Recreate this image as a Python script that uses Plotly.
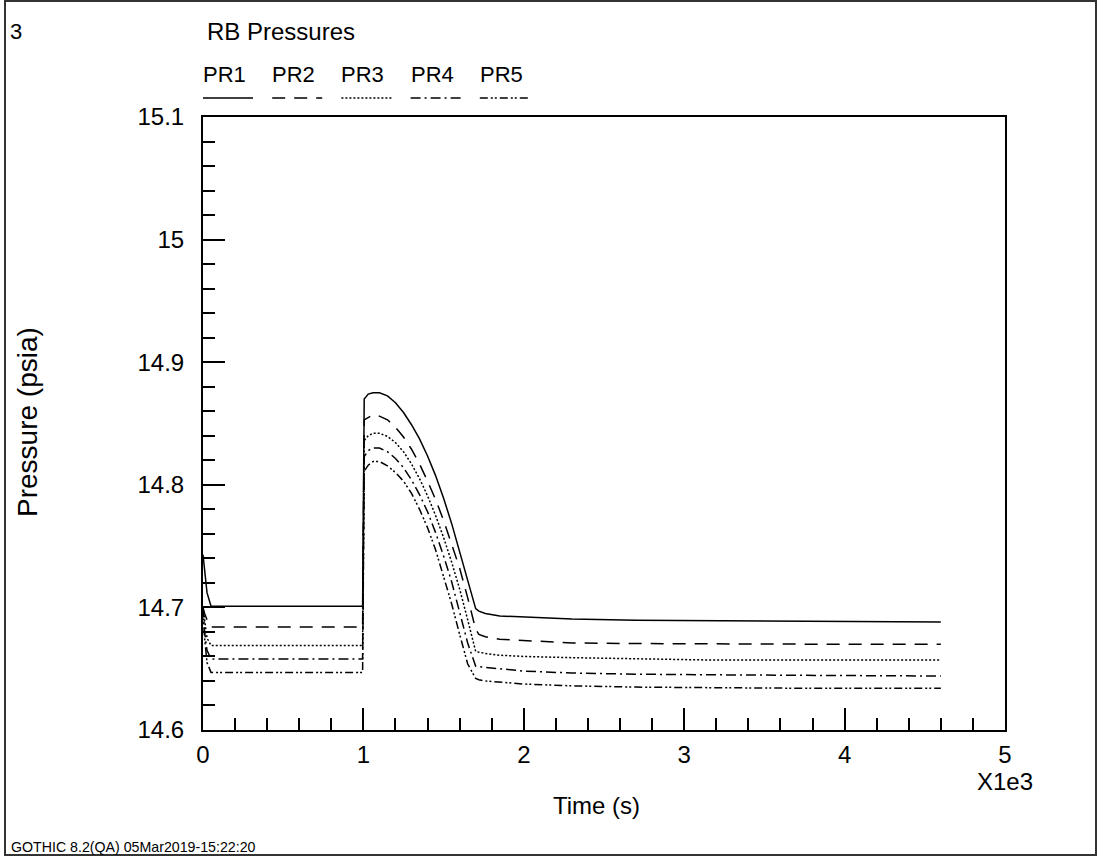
import plotly.graph_objects as go

# Time base (s) shared by all pressure channels
time_s = [0, 10, 25, 50, 100, 500, 995, 1005, 1030, 1060, 1100, 1150, 1200, 1250,
          1300, 1350, 1400, 1450, 1500, 1550, 1600, 1650, 1700, 1720, 1760, 1850,
          2000, 2300, 2700, 3200, 3800, 4600]

# Pressures (psia)
pr1 = [14.743, 14.730, 14.712, 14.701, 14.701, 14.701, 14.701, 14.870, 14.874, 14.875,
       14.875, 14.8725, 14.867, 14.859, 14.849, 14.8375, 14.8235, 14.8075, 14.789, 14.7685,
       14.746, 14.722, 14.699, 14.697, 14.695, 14.693, 14.692, 14.6905, 14.6895, 14.689,
       14.6885, 14.688]
pr2 = [14.700, 14.695, 14.690, 14.684, 14.684, 14.684, 14.684, 14.853, 14.855, 14.857,
       14.856, 14.853, 14.847, 14.839, 14.829, 14.817, 14.803, 14.788, 14.771, 14.752,
       14.732, 14.708, 14.682, 14.678, 14.676, 14.674, 14.673, 14.671, 14.6705, 14.670,
       14.670, 14.670]
pr3 = [14.700, 14.690, 14.675, 14.669, 14.669, 14.669, 14.669, 14.836, 14.840, 14.842,
       14.842, 14.8395, 14.8345, 14.827, 14.817, 14.805, 14.791, 14.775, 14.757, 14.737,
       14.715, 14.690, 14.664, 14.6635, 14.6625, 14.661, 14.660, 14.659, 14.658, 14.657,
       14.657, 14.657]
pr4 = [14.700, 14.680, 14.665, 14.658, 14.658, 14.658, 14.658, 14.823, 14.828, 14.830,
       14.830, 14.827, 14.8215, 14.814, 14.804, 14.792, 14.778, 14.761, 14.742, 14.721,
       14.697, 14.671, 14.652, 14.6515, 14.651, 14.650, 14.648, 14.6465, 14.6455, 14.645,
       14.6445, 14.644]
pr5 = [14.700, 14.675, 14.655, 14.647, 14.647, 14.647, 14.647, 14.811, 14.816, 14.819,
       14.819, 14.8155, 14.810, 14.803, 14.793, 14.780, 14.765, 14.747, 14.726, 14.703,
       14.678, 14.654, 14.642, 14.641, 14.640, 14.639, 14.6375, 14.636, 14.635, 14.6345,
       14.634, 14.634]

series_names = ["PR1", "PR2", "PR3", "PR4", "PR5"]
series_values = [pr1, pr2, pr3, pr4, pr5]
dash_styles = ["solid", "13px,9px", "2px,2px", "10px,4px,2px,4px", "8px,3px,2px,2px,2px,3px"]

x_tick_vals = [0, 1000, 2000, 3000, 4000, 5000]
x_tick_text = ["0", "1", "2", "3", "4", "5"]
y_tick_vals = [14.6, 14.7, 14.8, 14.9, 15.0, 15.1]
y_tick_text = ["14.6", "14.7", "14.8", "14.9", "15", "15.1"]

W, H = 1098, 857
L, R, T, B = 203, 1005, 117, 730
FONT = "Liberation Sans, Arial, sans-serif"


def px(x):
    return (x - L) / (R - L)


def py(y):
    return (B - y) / (B - T)


fig = go.Figure()
for name, vals, dash in zip(series_names, series_values, dash_styles):
    fig.add_trace(go.Scatter(x=time_s, y=vals, mode="lines", name=name,
                             line=dict(color="black", width=1.5, dash=dash)))

axis_common = dict(showline=True, linecolor="black", linewidth=2, mirror=True,
                   ticks="inside", ticklen=22, tickwidth=2, tickcolor="black",
                   showgrid=False, zeroline=False,
                   tickfont=dict(family=FONT, size=24, color="black"))

fig.update_xaxes(range=[0, 5000], tickmode="array", tickvals=x_tick_vals,
                 ticktext=x_tick_text, ticklabelstandoff=2,
                 minor=dict(ticks="inside", ticklen=12, tickwidth=2,
                            tickcolor="black", dtick=200, tick0=0, showgrid=False),
                 **axis_common)
fig.update_yaxes(range=[14.6, 15.1], tickmode="array", tickvals=y_tick_vals,
                 ticktext=y_tick_text, ticklabelstandoff=12,
                 minor=dict(ticks="inside", ticklen=12, tickwidth=2,
                            tickcolor="black", dtick=0.02, tick0=14.6, showgrid=False),
                 **axis_common)

annotations = [
    dict(text="3", x=px(8), y=py(32), xanchor="left", yanchor="middle", size=22),
    dict(text="RB Pressures", x=px(205), y=py(32), xanchor="left", yanchor="middle", size=24),
    dict(text="Time (s)", x=px(596), y=py(805), xanchor="center", yanchor="middle", size=24),
    dict(text="X1e3", x=px(1005), y=py(781), xanchor="center", yanchor="middle", size=24),
]
for a in annotations:
    size = a.pop("size")
    fig.add_annotation(xref="paper", yref="paper", showarrow=False,
                       font=dict(family=FONT, size=size, color="black"), **a)

fig.add_annotation(text="Pressure (psia)", xref="paper", yref="paper",
                   x=px(27), y=py(422), xanchor="center", yanchor="middle",
                   textangle=-90, showarrow=False,
                   font=dict(family=FONT, size=28, color="black"))
fig.add_annotation(text="GOTHIC 8.2(QA) 05Mar2019-15:22:20", xref="paper", yref="paper",
                   x=px(9), y=py(847), xanchor="left", yanchor="middle", showarrow=False,
                   font=dict(family=FONT, size=14.2, color="black"))

# Legend: name above a short sample of each line style
for i, (name, dash) in enumerate(zip(series_names, dash_styles)):
    x0 = 203 + i * 69.2
    fig.add_annotation(text=name, xref="paper", yref="paper", x=px(x0 - 2), y=py(75),
                       xanchor="left", yanchor="middle", showarrow=False,
                       font=dict(family=FONT, size=22, color="black"))
    fig.add_shape(type="line", xref="paper", yref="paper",
                  x0=px(x0), x1=px(x0 + 50), y0=py(98), y1=py(98),
                  line=dict(color="black", width=1.5, dash=dash))

# Outer page frame
fig.add_shape(type="rect", xref="paper", yref="paper",
              x0=px(5), x1=px(1096), y0=py(855), y1=py(1),
              line=dict(color="#333333", width=2))

fig.update_layout(width=W, height=H, showlegend=False,
                  margin=dict(l=L, r=W - R, t=T, b=H - B),
                  paper_bgcolor="white", plot_bgcolor="white",
                  font=dict(family=FONT, color="black"))

fig.write_html("out.html")
